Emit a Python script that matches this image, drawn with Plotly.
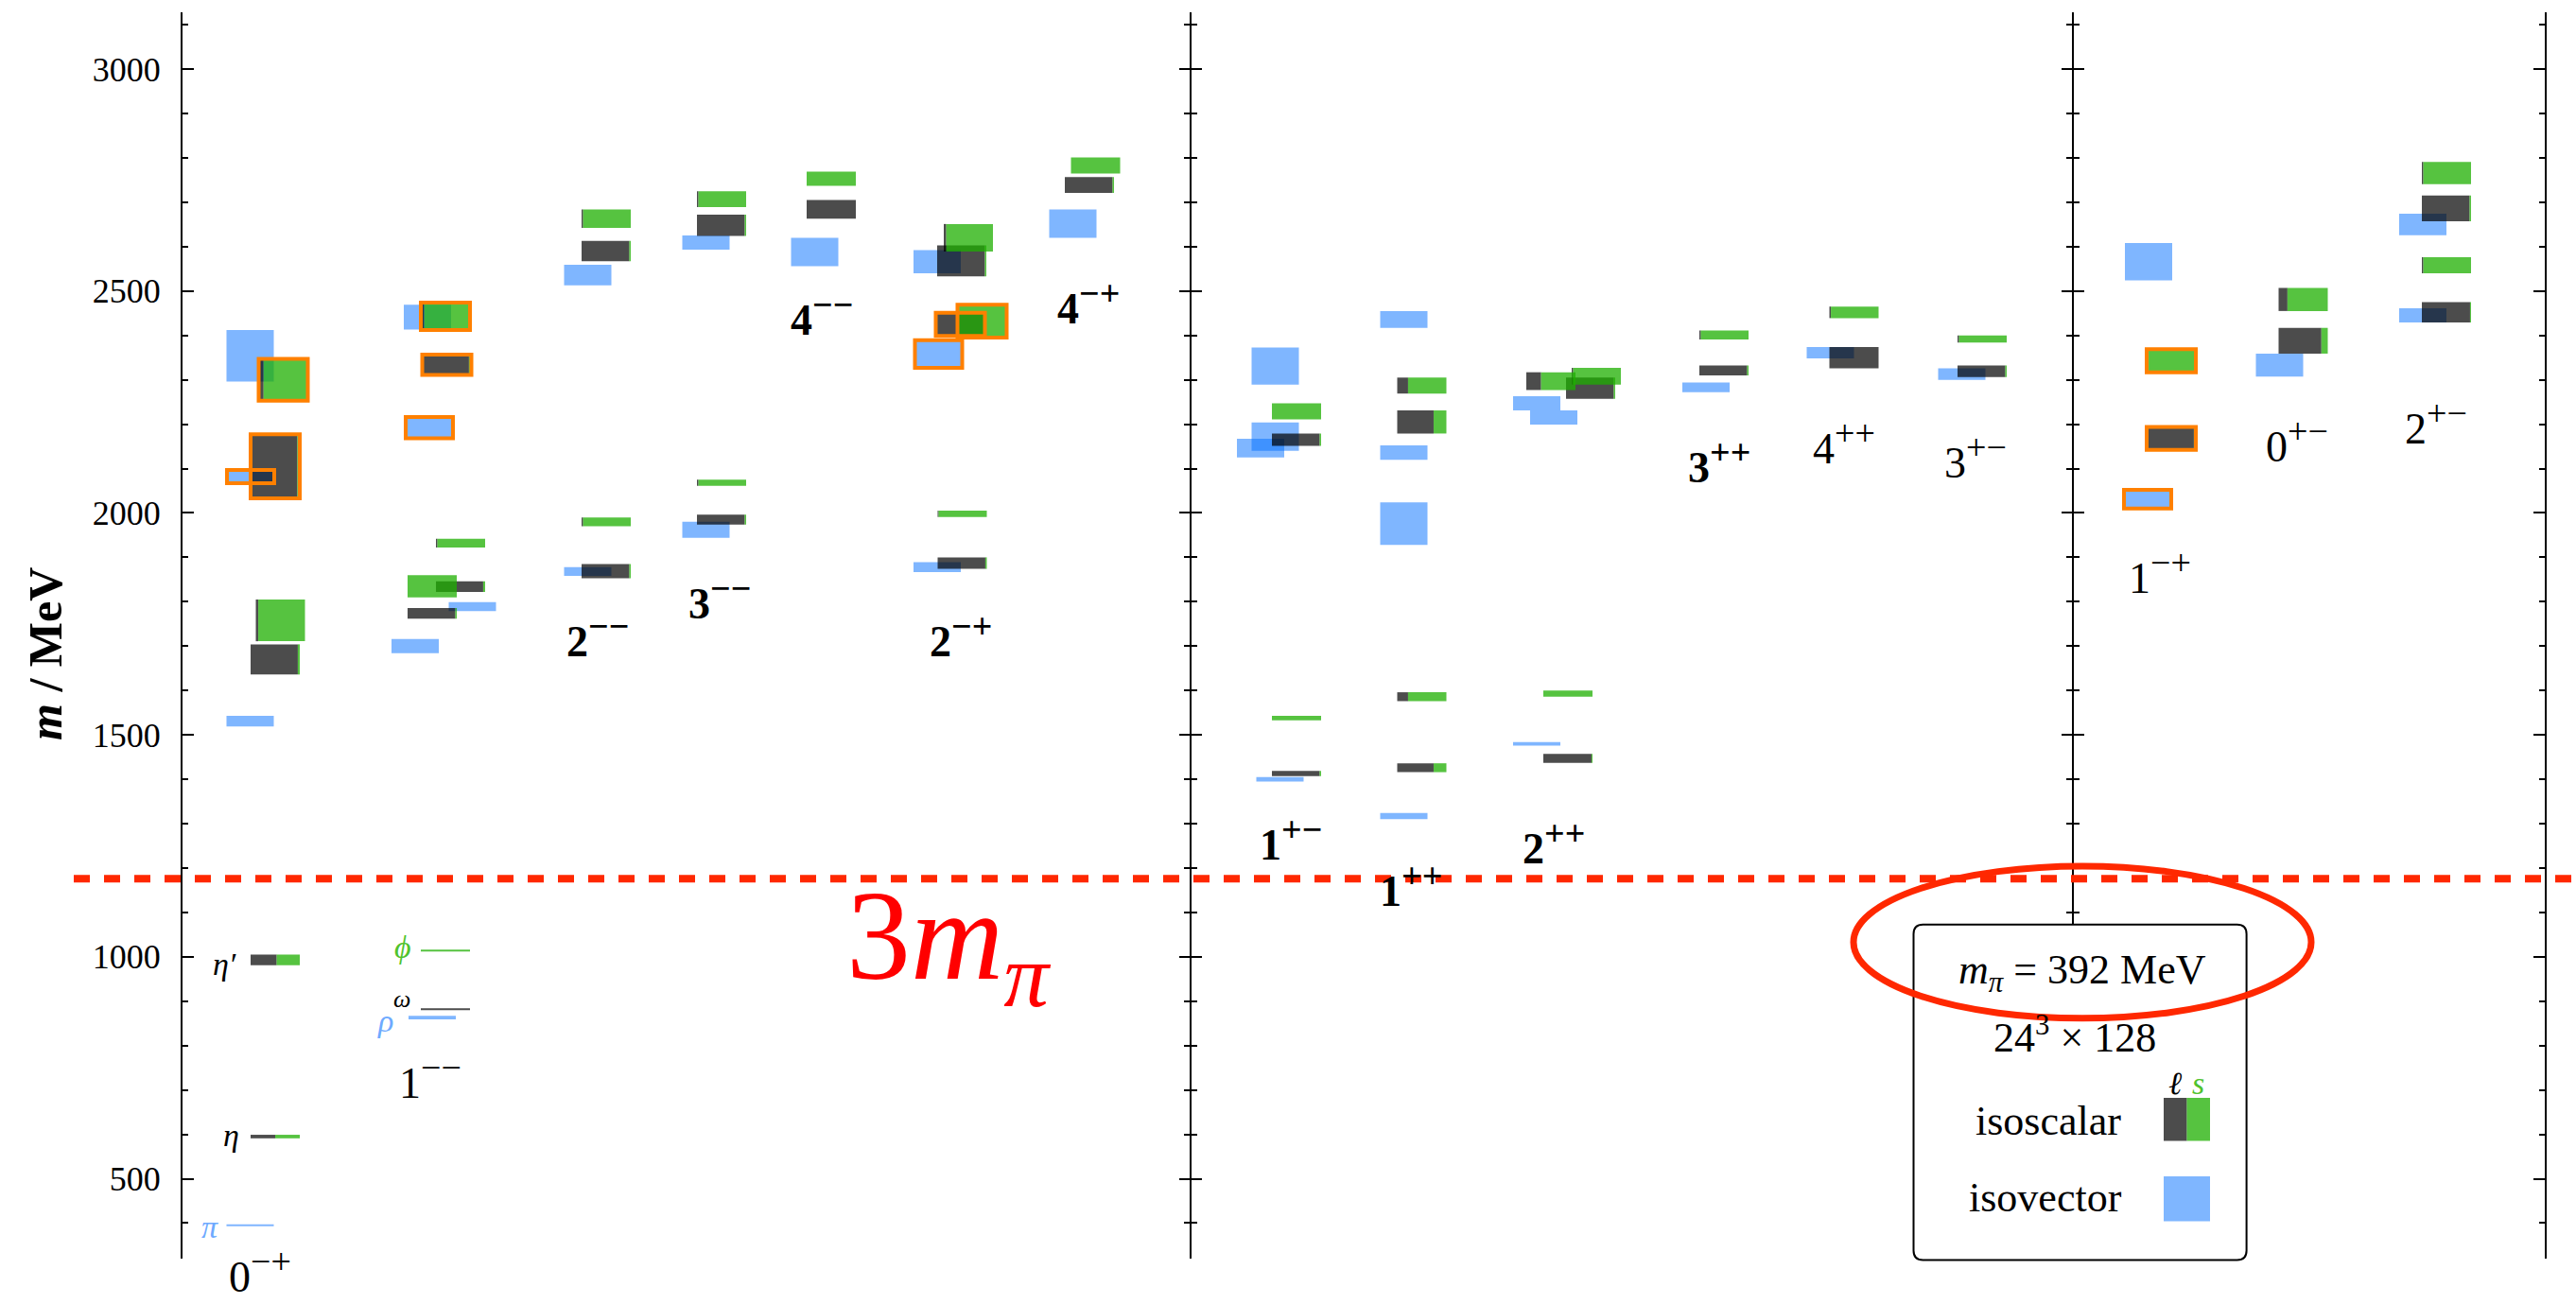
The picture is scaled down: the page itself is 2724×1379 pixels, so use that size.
import plotly.graph_objects as go

# ---------------- data ----------------
M_PI = 392  # MeV

jpc = ["0-+", "1--", "2--", "3--", "4--", "2-+", "4-+",
       "1+-", "1++", "2++", "3++", "4++", "3+-",
       "1-+", "0+-", "2+-"]
label_x = [1.63, 5.24, 8.78, 11.36, 13.52, 16.46, 19.16,
           23.44, 25.98, 29.0, 32.5, 35.14, 37.92,
           41.82, 44.72, 47.66]
label_m = [292, 729, 1722, 1808, 2447, 1722, 2473,
           1264, 1160, 1256, 2115, 2157, 2125,
           1865, 2162, 2202]
label_bold = [0, 0, 1, 1, 1, 1, 1, 1, 1, 1, 1, 0, 0, 0, 0, 0]

# isovector states
iv_mass = [395, 1531, 2082, 2354, 863, 1700, 1789, 2192, 2441, 1868, 2536, 1962, 2609,
           2588, 1878, 2358, 2566, 2652, 1400, 2146, 2172, 2331, 1317, 1976, 2136, 2436,
           1480, 2215, 2247, 2283, 2361, 2313, 2031, 2566, 2333, 2445, 2650]
iv_err = [2, 12, 15, 58, 4, 16, 10, 24, 28, 10, 23, 18, 16,
          32, 11, 31, 26, 32, 5, 21, 32, 42, 7, 48, 16, 19,
          4, 16, 16, 11, 13, 13, 21, 42, 26, 16, 24]
iv_x = [1.43, 1.43, 1.44, 1.43, 5.28, 4.92, 6.13, 5.22, 5.18, 8.57, 8.57, 11.07, 11.07,
        13.37, 15.96, 15.99, 15.96, 18.83, 23.21, 22.80, 23.11, 23.11, 25.83, 25.83, 25.83, 25.83,
        28.64, 29.00, 28.64, 32.22, 34.85, 37.63, 41.56, 41.58, 44.35, 47.38, 47.38]
iv_hl = [0, 0, 1, 0, 0, 0, 0, 1, 0, 0, 0, 0, 0,
         0, 0, 1, 0, 0, 0, 0, 0, 0, 0, 0, 0, 0,
         0, 0, 0, 0, 0, 0, 1, 0, 0, 0, 0]

# isoscalar states (strange fraction = green share)
is_mass = [595, 993, 1670, 1758, 2105, 2300,
           882, 1014, 1774, 1835, 1834, 1932, 2334, 2443,
           1869, 1980, 2590, 2663,
           1985, 2068, 2648, 2707,
           2684, 2753,
           1887, 1998, 2425, 2432, 2568, 2620,
           2739, 2783,
           1413, 1538, 2165, 2229,
           1426, 1586, 2205, 2287,
           1447, 1593, 2297, 2281, 2308,
           2321, 2401,
           2350, 2452,
           2319, 2392,
           2168, 2343,
           2388, 2481,
           2452, 2558, 2686, 2766]
is_err = [4, 12, 34, 47, 72, 47,
          2, 2, 12, 25, 12, 10, 23, 31,
          16, 10, 23, 21,
          11, 7, 24, 18,
          21, 16,
          13, 7, 26, 37, 35, 31,
          18, 18,
          6, 5, 14, 18,
          10, 10, 26, 18,
          10, 7, 20, 24, 19,
          11, 10,
          24, 13,
          13, 8,
          26, 26,
          29, 26,
          23, 18, 29, 25]
is_strange = [0.5, 0.47, 0.04, 0.95, 0.05, 0.9,
              0.0, 1.0, 0.03, 1.0, 0.04, 0.97, 0.05, 0.93,
              0.03, 0.97, 0.03, 0.97,
              0.03, 0.97, 0.03, 0.97,
              0.0, 1.0,
              0.03, 0.98, 0.02, 0.97, 0.03, 0.95,
              0.03, 1.0,
              0.03, 1.0, 0.03, 1.0,
              0.26, 0.78, 0.26, 0.78,
              0.02, 1.0, 0.7, 0.03, 0.97,
              0.03, 0.97,
              0.0, 0.97,
              0.03, 0.97,
              0.04, 0.96,
              0.13, 0.82,
              0.02, 0.97, 0.03, 0.97]
is_x = [1.96, 1.96, 1.96, 2.07, 1.96, 2.13,
        5.56, 5.56, 5.28, 5.28, 5.88, 5.88, 5.59, 5.56,
        8.96, 8.96, 8.96, 8.96,
        11.40, 11.40, 11.40, 11.40,
        13.72, 13.72,
        16.49, 16.49, 16.45, 16.91, 16.48, 16.62,
        19.18, 19.31,
        23.56, 23.56, 23.56, 23.56,
        26.21, 26.21, 26.21, 26.21,
        29.30, 29.30, 28.94, 29.78, 29.90,
        32.60, 32.60,
        35.35, 35.35,
        38.06, 38.06,
        42.06, 42.06,
        44.85, 44.85,
        47.88, 47.88, 47.88, 47.88]
is_hl = [0, 0, 0, 0, 1, 1,
         0, 0, 0, 0, 0, 0, 1, 1,
         0, 0, 0, 0,
         0, 0, 0, 0,
         0, 0,
         0, 0, 1, 1, 0, 0,
         0, 0,
         0, 0, 0, 0,
         0, 0, 0, 0,
         0, 0, 0, 0, 0,
         0, 0,
         0, 0,
         0, 0,
         1, 1,
         0, 0,
         0, 0, 0, 0]

# named low-lying states
part_text = ["π", "η", "η′", "ϕ", "ω", "ρ"]
part_col = ["blue", "black", "black", "green", "black", "blue"]
part_x = [0.58, 1.02, 0.88, 4.66, 4.64, 4.28]
part_m = [391, 597, 984, 1023, 904, 855]
part_size = [34, 34, 34, 34, 26, 34]

# ---------------- styling ----------------
W, H = 2724, 1379
L, R, T, B = 193, 2691, 13, 1331
X_RANGE = [0, (R - L) / 50.0]
Y_RANGE = [320, 3128]
W_IV, W_IS = 1.0, 1.04

BLUE = "rgba(0,110,255,0.5)"
DARK = "rgba(0,0,0,0.7)"
GREEN = "rgba(30,175,0,0.75)"
ORANGE = "rgb(255,128,0)"
RED = "rgb(255,40,0)"
SERIF = "Liberation Serif"
TXT_COL = {"blue": "rgb(110,170,255)", "black": "black", "green": "rgb(80,195,45)"}


def px2x(px):
    return (px - L) / (R - L)


def py2y(py):
    return (B - py) / (B - T)


def m2paper(m):
    return (m - Y_RANGE[0]) / (Y_RANGE[1] - Y_RANGE[0])


fig = go.Figure()

# isovector boxes
fig.add_trace(go.Bar(
    x=iv_x, y=[2 * e for e in iv_err], base=[m - e for m, e in zip(iv_mass, iv_err)],
    width=[W_IV] * len(iv_x), marker=dict(color=BLUE, line=dict(width=0)),
    hoverinfo="skip", showlegend=False))

# isoscalar: light (dark) and strange (green) parts
dx, dy, db, dw = [], [], [], []
gx, gy, gb, gw = [], [], [], []
for m, e, s, c in zip(is_mass, is_err, is_strange, is_x):
    wd = (1 - s) * W_IS
    wg = s * W_IS
    if wd > 0:
        dx.append(c - W_IS / 2 + wd / 2); dy.append(2 * e); db.append(m - e); dw.append(wd)
    if wg > 0:
        gx.append(c + W_IS / 2 - wg / 2); gy.append(2 * e); gb.append(m - e); gw.append(wg)

fig.add_trace(go.Bar(x=dx, y=dy, base=db, width=dw,
                     marker=dict(color=DARK, line=dict(width=0)),
                     hoverinfo="skip", showlegend=False))
fig.add_trace(go.Bar(x=gx, y=gy, base=gb, width=gw,
                     marker=dict(color=GREEN, line=dict(width=0)),
                     hoverinfo="skip", showlegend=False))

# orange highlight outlines
ox, oy, ob, ow = [], [], [], []
for m, e, c, h in zip(iv_mass, iv_err, iv_x, iv_hl):
    if h:
        ox.append(c); oy.append(2 * e); ob.append(m - e); ow.append(W_IV)
for m, e, c, h in zip(is_mass, is_err, is_x, is_hl):
    if h:
        ox.append(c); oy.append(2 * e); ob.append(m - e); ow.append(W_IS)
fig.add_trace(go.Bar(x=ox, y=oy, base=ob, width=ow,
                     marker=dict(color="rgba(0,0,0,0)", line=dict(width=4, color=ORANGE)),
                     hoverinfo="skip", showlegend=False))

# dummy traces for separator axes
for k in range(2, 6):
    fig.add_trace(go.Scatter(x=[None], y=[None], yaxis=f"y{k}", xaxis="x",
                             showlegend=False, hoverinfo="skip"))

axis_common = dict(range=Y_RANGE, showgrid=False, zeroline=False,
                   showline=True, linecolor="black", linewidth=2,
                   tickmode="linear", tick0=0, dtick=500, tickwidth=2,
                   tickcolor="black")

sep1 = px2x(1259)
sep2 = px2x(2192)

layout_axes = dict(
    xaxis=dict(range=X_RANGE, visible=False, domain=[0, 1], fixedrange=True),
    yaxis=dict(**axis_common, ticks="inside", ticklen=12, mirror="ticks",
               minor=dict(ticks="inside", ticklen=6, tickwidth=2, dtick=100, tick0=0,
                          tickcolor="black", showgrid=False),
               tickfont=dict(family=SERIF, size=36, color="black"),
               ticklabelstandoff=14),
)
for k, (pos, tk) in enumerate([(sep1, "outside"), (sep1, "inside"),
                               (sep2, "outside"), (sep2, "inside")], start=2):
    layout_axes[f"yaxis{k}"] = dict(**axis_common, overlaying="y", anchor="free",
                                    position=pos, side="left", ticks=tk, ticklen=11,
                                    showticklabels=False,
                                    minor=dict(ticks=tk, ticklen=6, tickwidth=2, dtick=100,
                                               tick0=0, tickcolor="black", showgrid=False))

annotations = []
# J^PC labels
for s, x, m, b in zip(jpc, label_x, label_m, label_bold):
    txt = (s[0] + "<sup><span style='font-size:38px'>" + s[1:].replace("-", "−")
           + "</span></sup>")
    if b:
        txt = "<b>" + txt + "</b>"
    annotations.append(dict(x=x, y=m2paper(m), xref="x", yref="paper", text=txt,
                            showarrow=False,
                            font=dict(family=SERIF, size=46, color="black"),
                            xanchor="center", yanchor="middle"))
# particle labels
for t, c, x, m, sz in zip(part_text, part_col, part_x, part_m, part_size):
    annotations.append(dict(x=x, y=m, xref="x", yref="y", text=f"<i>{t}</i>",
                            showarrow=False, font=dict(family=SERIF, size=sz, color=TXT_COL[c]),
                            xanchor="center", yanchor="middle"))
# axis title
annotations.append(dict(x=px2x(48), y=py2y(692), xref="paper", yref="paper",
                        text="<b><i>m</i> / MeV</b>", textangle=-90, showarrow=False,
                        font=dict(family=SERIF, size=50, color="black"),
                        xanchor="center", yanchor="middle"))
# 3 m_pi
annotations.append(dict(x=px2x(1003), y=py2y(1000), xref="paper", yref="paper",
                        text="3<i>m</i><sub><i>π</i></sub>", showarrow=False,
                        font=dict(family=SERIF, size=136, color="rgb(255,0,0)"),
                        xanchor="center", yanchor="middle"))
# legend texts
legend_ann = [
    dict(x=px2x(2202), y=py2y(1028), text=f"<i>m</i><sub><i>π</i></sub> = {M_PI} MeV",
         font=dict(family=SERIF, size=44, color="black")),
    dict(x=px2x(2194), y=py2y(1094), text="24<sup>3</sup> × 128",
         font=dict(family=SERIF, size=44, color="black")),
    dict(x=px2x(2300), y=py2y(1145), text="<i>ℓ</i>",
         font=dict(family=SERIF, size=34, color="black")),
    dict(x=px2x(2324), y=py2y(1145), text="<i>s</i>",
         font=dict(family=SERIF, size=34, color=TXT_COL["green"])),
    dict(x=px2x(2166), y=py2y(1185), text="isoscalar",
         font=dict(family=SERIF, size=44, color="black")),
    dict(x=px2x(2163), y=py2y(1266), text="isovector",
         font=dict(family=SERIF, size=44, color="black")),
]
for a in legend_ann:
    a.update(xref="paper", yref="paper", showarrow=False, xanchor="center", yanchor="middle")
annotations += legend_ann

# legend box with rounded corners
bx0, bx1 = px2x(2023.5), px2x(2375.6)
by0, by1 = py2y(1332.5), py2y(977.8)
rx, ry = 10 / (R - L), 10 / (B - T)
box_path = (f"M {bx0+rx},{by1} L {bx1-rx},{by1} Q {bx1},{by1} {bx1},{by1-ry} "
            f"L {bx1},{by0+ry} Q {bx1},{by0} {bx1-rx},{by0} "
            f"L {bx0+rx},{by0} Q {bx0},{by0} {bx0},{by0+ry} "
            f"L {bx0},{by1-ry} Q {bx0},{by1} {bx0+rx},{by1} Z")

shapes = [
    dict(type="line", xref="paper", yref="y", x0=px2x(78), x1=px2x(2724),
         y0=3 * M_PI, y1=3 * M_PI, line=dict(color=RED, width=8, dash="17px,15px"),
         layer="above"),
    dict(type="path", xref="paper", yref="paper", path=box_path,
         fillcolor="white", line=dict(color="black", width=2), layer="above"),
    dict(type="rect", xref="paper", yref="paper", x0=px2x(2288), x1=px2x(2312.5),
         y0=py2y(1206.5), y1=py2y(1161), fillcolor=DARK, line=dict(width=0), layer="above"),
    dict(type="rect", xref="paper", yref="paper", x0=px2x(2312.5), x1=px2x(2337),
         y0=py2y(1206.5), y1=py2y(1161), fillcolor=GREEN, line=dict(width=0), layer="above"),
    dict(type="rect", xref="paper", yref="paper", x0=px2x(2288), x1=px2x(2337),
         y0=py2y(1291.5), y1=py2y(1244), fillcolor=BLUE, line=dict(width=0), layer="above"),
    dict(type="circle", xref="paper", yref="paper", x0=px2x(1960), x1=px2x(2444),
         y0=py2y(1076.8), y1=py2y(916), line=dict(color=RED, width=7), layer="above"),
]

fig.update_layout(
    width=W, height=H,
    margin=dict(l=L, r=W - R, t=T, b=H - B, pad=0),
    paper_bgcolor="white", plot_bgcolor="white",
    barmode="overlay", showlegend=False, hovermode=False,
    annotations=annotations, shapes=shapes,
    **layout_axes,
)

fig.write_html("out.html", config={"displayModeBar": False},
               post_script="document.body.style.margin='0px';document.body.style.overflow='hidden';")
